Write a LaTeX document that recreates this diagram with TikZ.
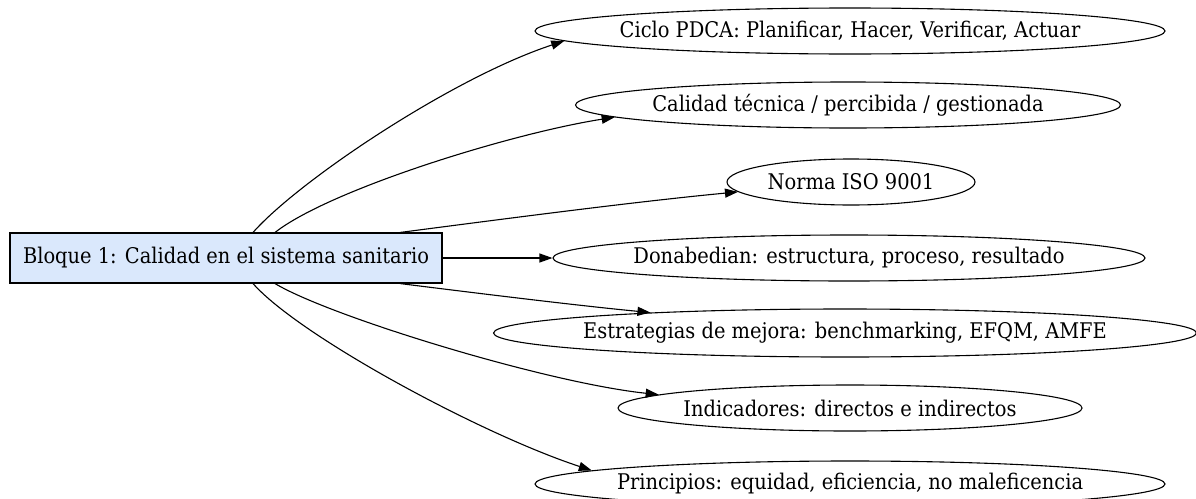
\documentclass[tikz,border=0pt]{standalone}
\usepackage{fontspec}
\setmainfont{DejaVu Serif Condensed}
\usetikzlibrary{shapes.geometric,arrows.meta}
\definecolor{boxfill}{HTML}{DAE8FC}
\newcommand{\zw}[1]{\makebox[0pt]{#1}}
\tikzset{
  lbl/.style={font=\fontsize{21.6}{25}\selectfont, inner sep=0pt},
  mainbox/.style={lbl, draw=black, fill=boxfill, line width=1.1pt, minimum width=432pt, minimum height=50pt},
  topic/.style={lbl, draw=black, ellipse, line width=1.1pt, minimum height=46pt},
  link/.style={draw=black, line width=1.1pt, -{Triangle[length=13pt,width=9pt]}}
}
\begin{document}
\begin{tikzpicture}[x=1pt,y=-1pt]
\useasboundingbox (0,0) rectangle (1196,498);
\clip (0,0) rectangle (1196,498);
\node[mainbox] (b) at (226,258) {Bloque 1: Calidad en el sistema sanitario};
\node[topic, minimum width=630pt] (e1) at (850,31) {\zw{Ciclo PDCA: Planificar, Hacer, Verificar, Actuar}};
\node[topic, minimum width=545pt] (e2) at (848,105) {\zw{Calidad técnica / percibida / gestionada}};
\node[topic, minimum width=248pt] (e3) at (851,182) {\zw{Norma ISO 9001}};
\node[topic, minimum width=592pt] (e4) at (849,258) {\zw{Donabedian: estructura, proceso, resultado}};
\node[topic, minimum width=703pt, minimum height=48pt] (e5) at (845,333) {\zw{Estrategias de mejora: benchmarking, EFQM, AMFE}};
\node[topic, minimum width=464pt] (e6) at (850,408) {\zw{Indicadores: directos e indirectos}};
\node[topic, minimum width=630pt] (e7) at (850,484) {\zw{Principios: equidad, eficiencia, no maleficencia}};

\draw[link] ([xshift=27pt]b.north) .. controls +(47,-53) and +(-110,36) .. (e1.182.76);
\draw[link] ([xshift=49pt]b.north) .. controls +(55,-43) and +(-103,16) .. (e2.183.56);
\draw[link] ([xshift=174pt]b.north) .. controls +(100,-13) and +(-105,10) .. (e3.185.4);
\draw[link] (b.east) -- (e4.west);
\draw[link] ([xshift=174pt]b.south) .. controls +(80,10) and +(-73,-7) .. (e5.174.06);
\draw[link] ([xshift=49pt]b.south) .. controls +(55,33) and +(-113,-12) .. (e6.176.96);
\draw[link] ([xshift=27pt]b.south) .. controls +(47,53) and +(-110,-36) .. (e7.177.46);
\end{tikzpicture}
\end{document}
